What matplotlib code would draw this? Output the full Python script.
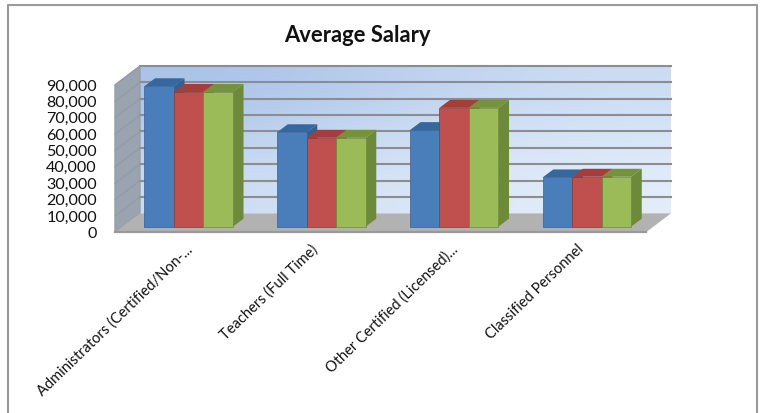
import numpy as np
import matplotlib
matplotlib.use('Agg')
import matplotlib.pyplot as plt
from matplotlib.patches import Polygon
from matplotlib.lines import Line2D
from matplotlib.transforms import ScaledTranslation

categories = ['Administrators (Certified/Non-...', 'Teachers (Full Time)',
              'Other Certified (Licensed)...', 'Classified Personnel']
series_a = [85800, 57700, 59000, 30100]
series_b = [82300, 54300, 72600, 30500]
series_c = [82300, 54300, 72600, 30500]
ticks = [0, 10000, 20000, 30000, 40000, 50000, 60000, 70000, 80000, 90000]
tick_labels = ['0', '10,000', '20,000', '30,000', '40,000', '50,000', '60,000', '70,000', '80,000', '90,000']

W, H = 769, 413
plt.rcParams['font.family'] = ['Lato', 'DejaVu Sans']

fig = plt.figure(figsize=(W / 100, H / 100), dpi=100)

# axes = the front plane of the 3d box, in pixels
left, right, top, bottom = 115, 646, 85, 232.3
ax = fig.add_axes([left / W, 1 - bottom / H, (right - left) / W, (bottom - top) / H])
ax.set_xlim(-0.5, 3.5)
ax.set_ylim(0, 90000)

px_x = 4 / (right - left)
px_y = 90000 / (bottom - top)
wall_dx, wall_dy = 25 * px_x, 19 * px_y
x0, x1 = -0.5, 3.5
y1 = 90000

# back wall with gradient
grad = np.array([[0.0, 0.35, 0.6], [0.35, 0.65, 0.85], [0.6, 0.85, 1.0]])
c1 = np.array([0.66, 0.76, 0.91])
c2 = np.array([0.89, 0.93, 0.98])
img = c1 + grad[..., None] * (c2 - c1)
ax.imshow(img, extent=[x0 + wall_dx, x1 + wall_dx, wall_dy, y1 + wall_dy], aspect='auto',
          interpolation='bicubic', clip_on=False, zorder=1)
ax.set_xlim(-0.5, 3.5)
ax.set_ylim(0, 90000)

# left wall
wall = Polygon([(x0, 0), (x0 + wall_dx, wall_dy), (x0 + wall_dx, y1 + wall_dy), (x0, y1)],
               closed=True, facecolor='#9aa4b0', edgecolor='#9a9ea3', lw=1, clip_on=False, zorder=1.5)
ax.add_patch(wall)

# floor
floor = Polygon([(x0, 0), (x1, 0), (x1 + wall_dx, wall_dy), (x0 + wall_dx, wall_dy)],
                closed=True, facecolor='#b2b2b2', edgecolor='none', clip_on=False, zorder=2)
ax.add_patch(floor)
ax.add_line(Line2D([x0, x1], [0, 0], color='#999999', lw=1.6, clip_on=False, zorder=2.1))

# gridlines on the back wall and fainter on the side wall
for t in ticks[1:]:
    ax.add_line(Line2D([x0 + wall_dx, x1 + wall_dx], [t + wall_dy, t + wall_dy],
                       color='#8a8e93', lw=1.5, clip_on=False, zorder=1.6))
    ax.add_line(Line2D([x0, x0 + wall_dx], [t, t + wall_dy],
                       color='#929aa4', lw=0.8, clip_on=False, zorder=1.6))

# bars
bar_w = 29.5 * px_x
shift_x = 7.2 * px_x
shift_y = 5.6 * px_y
dep_x, dep_y = 10.7 * px_x, 8 * px_y
styles = [
    (series_a, '#4a7ebb', '#376092', '#35689f', -1),
    (series_b, '#c0504d', '#953735', '#a33e3b', 0),
    (series_c, '#9bbb59', '#6d8a3a', '#76923c', 1),
]
xs = np.arange(len(categories)) + shift_x

for i in range(len(categories)):
    for vals, front, side, topc, off in styles:
        x = xs[i] + off * bar_w
        v = vals[i]
        l, r = x - bar_w / 2, x + bar_w / 2
        b, t = shift_y, shift_y + v
        z = 3 + off * 0.1 + i
        ax.add_patch(Polygon([(r, b), (r + dep_x, b + dep_y), (r + dep_x, t + dep_y), (r, t)],
                             closed=True, facecolor=side, edgecolor='none', clip_on=False, zorder=z))
        ax.add_patch(Polygon([(l, t), (r, t), (r + dep_x, t + dep_y), (l + dep_x, t + dep_y)],
                             closed=True, facecolor=topc, edgecolor='none', clip_on=False, zorder=z))
        ax.bar(x, v, bar_w, bottom=shift_y, color=front, edgecolor=side, linewidth=0.5,
               clip_on=False, zorder=z + 0.05)

ax.set_yticks(ticks)
ax.set_yticklabels(tick_labels, fontsize=11.6, color='#111111')
ax.set_xticks(range(len(categories)))
ax.set_xticklabels(categories, rotation=44, ha='right', rotation_mode='anchor', fontsize=10.5, color='#111111')
ax.tick_params(axis='y', length=0, pad=13)
ax.tick_params(axis='x', length=0, pad=7)

# excel nudges the labels a little differently
nudges = [4, -4, 4, -3]
for lab, dx in zip(ax.get_xticklabels(), nudges):
    lab.set_transform(lab.get_transform() + ScaledTranslation(dx / 100, 0, fig.dpi_scale_trans))

for s in ax.spines.values():
    s.set_visible(False)
ax.patch.set_visible(False)

fig.text(357 / W, 1 - 35.5 / H, 'Average Salary', ha='center', va='center', fontsize=15.8, fontweight='bold', color='#111111')

# chart border, runs off the bottom of the image
border = '#9a9a9a'
fig.add_artist(Line2D([7.5 / W, 7.5 / W, 757 / W, 757 / W], [0, 1 - 4.5 / H, 1 - 4.5 / H, 0], color=border, lw=1.5))

fig.savefig('out.png', dpi=100)
